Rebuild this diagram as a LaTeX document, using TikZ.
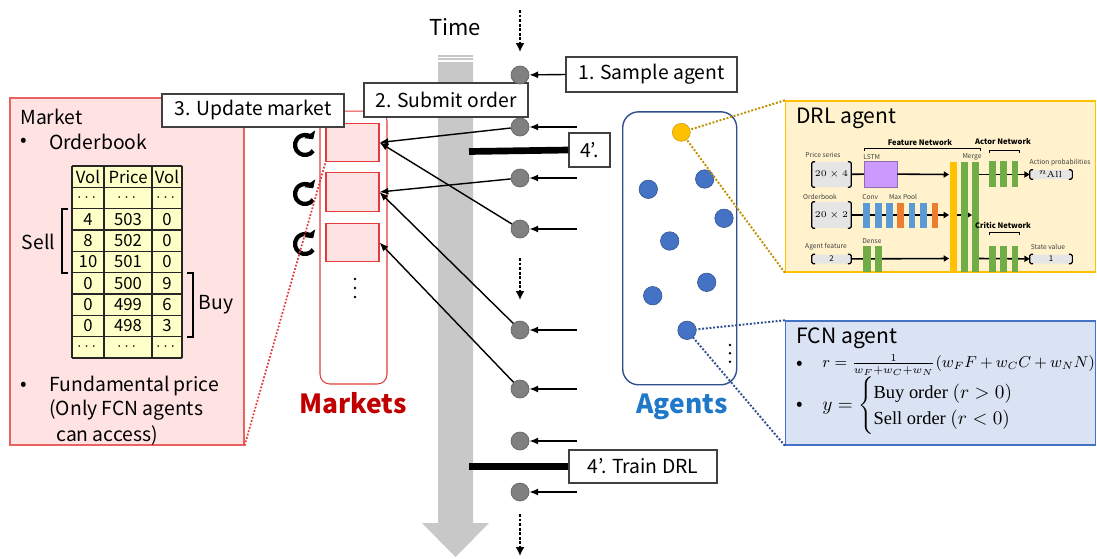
\documentclass[tikz,border=0pt]{standalone}
\usepackage[no-math]{fontspec}
\usepackage{amsmath}
\setmainfont{Noto Sans CJK JP}
\newfontfamily\fcnserif{Liberation Serif}
\usetikzlibrary{arrows.meta,positioning}

\definecolor{mktred}{HTML}{E33B3B}
\definecolor{mktpink}{HTML}{FFE3E3}
\definecolor{agtblue}{HTML}{2F4F8F}
\definecolor{dotblue}{HTML}{4472C4}
\definecolor{agtgold}{HTML}{FFC000}
\definecolor{goldline}{HTML}{BF9000}
\definecolor{drlfill}{HTML}{FFF2CC}
\definecolor{fcnfill}{HTML}{DAE3F3}
\definecolor{tblfill}{HTML}{FFFFC8}
\definecolor{lstmpurple}{HTML}{CC99FF}
\definecolor{convblue}{HTML}{5B9BD5}
\definecolor{poolorange}{HTML}{ED7D31}
\definecolor{densegreen}{HTML}{70AD47}
\definecolor{titleblue}{HTML}{1F78C8}
\definecolor{titlered}{HTML}{C00000}
\definecolor{timegray}{HTML}{C8C8C8}

\tikzset{
  stepbox/.style={draw=black!75, fill=white, line width=0.7pt, inner sep=0pt,
    font=\fontsize{11}{13}\selectfont},
  tick/.style={circle, draw=black!60, fill=black!50, minimum size=0.36cm, inner sep=0pt},
  feed/.style={line width=0.8pt, -{Latex[length=5pt,width=4pt]}},
  later/.style={densely dotted, line width=1.6pt, -{Latex[length=5pt,width=5pt]}},
  trainbar/.style={line width=3.8pt},
  book/.style={draw=mktred, fill=mktpink, line width=0.6pt, minimum width=1.06cm,
    minimum height=0.77cm, inner sep=0pt},
  refresh/.style={line width=2.4pt, -{Triangle[length=3.5pt,width=7.5pt]}},
  agent/.style={circle, fill=dotblue, draw=dotblue!70!black, line width=0.3pt,
    minimum size=0.37cm, inner sep=0pt},
  bigtitle/.style={font=\fontsize{15}{17}\selectfont\bfseries},
  txt/.style={font=\fontsize{11}{13}\selectfont, inner sep=0pt, anchor=west},
  cell/.style={font=\fontsize{9.5}{11}\selectfont, inner sep=0pt},
  tiny/.style={font=\fontsize{3.8}{4.5}\selectfont, inner sep=0pt, text=black!75},
  tinybold/.style={font=\fontsize{4.3}{5}\selectfont\bfseries, inner sep=0pt},
  vecbox/.style={fill=black!10, inner sep=0pt, rounded corners=1pt,
    font=\fontsize{4.5}{5}\selectfont},
  net/.style={line width=0.9pt, -{Triangle[length=3pt,width=3.5pt]}}
}

\begin{document}
\begin{tikzpicture}[x=0.02cm, y=-0.02cm]
\useasboundingbox (0,0) rectangle (1097,558);

% time axis
\fill[timegray] (438,55) -- (473,55) -- (473,523) -- (489,523) -- (455.5,557)
  -- (422,523) -- (438,523) -- cycle;
\draw[white, line width=0.6pt] (438,57.5) -- (473,57.5) (438,61) -- (473,61);
\node[font=\fontsize{12.5}{14}\selectfont] (time) at (455,27) {Time};

% markets
\node[draw=mktred, rounded corners=5.5pt, line width=0.6pt, minimum width=1.34cm,
  minimum height=5.46cm] (markets) at (353.5,247.5) {};
\node[bigtitle, text=titlered, anchor=base] (marketslbl) at (353,413) {Markets};
\node[book] (m1) at (352.5,142.5) {};
\node[book] (m2) at (352.5,192) {};
\node[book] (m3) at (352.5,242.5) {};
\foreach \yy in {279,288,297}
  \fill (355,\yy) circle (0.8pt);
\foreach \yy in {145,194,244}
  \draw[refresh] (305,\yy) ++(-35:0.2cm) arc[start angle=-35, end angle=-325, radius=0.2cm];

% market detail
\node[draw=mktred!80, fill=mktpink, line width=0.7pt, minimum width=4.68cm,
  minimum height=6.94cm, inner sep=0pt] (market) at (127,271.5) {};
\draw[mktred, densely dotted, line width=1pt] (market.south east) -- (m1.south west);
\node[txt] (mkttitle) at (20,117) {Market};
\node[txt] (bul1) at (20,142) {•};
\node[txt] (obook) at (49,142) {Orderbook};
\fill[tblfill] (72,166) rectangle (182,358);
\foreach \i in {0,...,9}
  \draw[black!85, line width=0.6pt] (72,166+21.33*\i) -- (182,166+21.33*\i);
\foreach \xx in {72,104,152,182}
  \draw[black!85, line width=0.6pt] (\xx,166) -- (\xx,358);
\foreach \a/\b/\c [count=\i from 0] in {Vol/Price/Vol, {$\cdots$}/{$\cdots$}/{$\cdots$},
    4/503/0, 8/502/0, 10/501/0, 0/500/9, 0/499/6, 0/498/3, {$\cdots$}/{$\cdots$}/{$\cdots$}} {
  \node[cell] (va\i) at (88,176.7+21.33*\i) {\a};
  \node[cell] (pr\i) at (128,176.7+21.33*\i) {\b};
  \node[cell] (vb\i) at (167,176.7+21.33*\i) {\c};
}
\draw[line width=0.8pt] (68,209) -- (62,209) -- (62,273) -- (68,273);
\draw[line width=0.8pt] (187,273) -- (193,273) -- (193,337) -- (187,337);
\node[txt, anchor=center] (sell) at (38.5,242) {Sell};
\node[txt, anchor=center] (buy) at (216,305) {Buy};
\node[txt] (bul2) at (20,386) {•};
\node[txt] (fprice) at (49,386) {Fundamental price};
\node[txt] (only) at (49,410) {(Only FCN agents};
\node[txt] (access) at (56,435) {can access)};

% step labels
\node[stepbox, minimum width=3.64cm, minimum height=0.66cm] (update) at (253,110.5) {3. Update market};
\node[stepbox, minimum width=3.28cm, minimum height=0.68cm] (submit) at (446,100) {2. Submit order};

% agent ticks on the time line
\foreach \n/\yy in {1/75,2/127,3/178,4/229,5/330,6/389,7/441,8/492} {
  \node[tick] (t\n) at (520,\yy) {};
  \coordinate (f\n) at (577,\yy);
}
\node[stepbox, minimum width=3.42cm, minimum height=0.7cm] (sample) at (651.5,74.5) {1. Sample agent};
\draw[feed] (sample.west) -- (t1);
\foreach \n in {2,...,8}
  \draw[feed] (f\n) -- (t\n);

\coordinate (d1a) at (520,10);   \coordinate (d1b) at (520,52);
\coordinate (d2a) at (520,258);  \coordinate (d2b) at (520,300);
\coordinate (d3a) at (520,514);  \coordinate (d3b) at (520,556);
\draw[later] (d1a) -- (d1b);
\draw[later] (d2a) -- (d2b);
\draw[later] (d3a) -- (d3b);

% training steps
\node[stepbox, minimum width=0.82cm, minimum height=0.68cm] (trainmark) at (589.5,150) {4’.};
\node[stepbox, minimum width=2.96cm, minimum height=0.66cm] (train) at (643,466.5) {4’. Train DRL};
\coordinate (b1) at (469,151.5);
\coordinate (b2) at (469,466.5);
\draw[trainbar] (b1) -- (trainmark.west);
\draw[trainbar] (b2) -- (train.west);

% orders
\draw[feed] (t2) -- (m1.east);
\draw[feed] (t4) -- (m1.east);
\draw[feed] (t3) -- (m2.east);
\draw[feed] (t5) -- (m2.east);
\draw[feed] (t6) -- (m3.east);

% agents
\node[draw=agtblue, rounded corners=9pt, line width=0.8pt, minimum width=2.28cm,
  minimum height=5.46cm] (agents) at (679.7,248.3) {};
\node[bigtitle, text=titleblue, anchor=base] (agentslbl) at (682,413) {Agents};
\node[circle, fill=agtgold, draw=agtgold!80!black, line width=0.3pt, minimum size=0.36cm,
  inner sep=0pt] (drlag) at (681.3,132.3) {};
\node[agent] (a1) at (648.3,189.3) {};
\node[agent] (a2) at (704.7,179) {};
\node[agent] (a3) at (724,218.3) {};
\node[agent] (a4) at (669.7,241) {};
\node[agent] (a5) at (706.7,282.3) {};
\node[agent] (a6) at (652.7,295.7) {};
\node[agent] (fcnag) at (687,330.3) {};
\foreach \yy in {345,353.3,361.7}
  \fill (730,\yy) circle (0.8pt);

% DRL agent detail
\node[draw=agtgold, fill=drlfill, line width=0.8pt, minimum width=6.2cm,
  minimum height=3.42cm, inner sep=0pt] (drl) at (940.5,186.5) {};
\draw[goldline, densely dotted, line width=1.1pt] (drl.north west) -- (drlag);
\draw[goldline, densely dotted, line width=1.1pt] (drl.south west) -- (drlag);
\node[txt, font=\fontsize{12}{14}\selectfont] (drltitle) at (796,118) {DRL agent};

\node[vecbox, minimum width=0.78cm, minimum height=0.5cm] (ps) at (831.5,174.5) {$20\times4$};
\node[vecbox, minimum width=0.78cm, minimum height=0.52cm] (ob) at (831.5,215) {$20\times2$};
\node[vecbox, minimum width=0.78cm, minimum height=0.18cm] (af) at (831.5,259) {2};
\node[vecbox, minimum width=0.84cm, minimum height=0.18cm] (ap) at (1051,174.5) {$n_{\mathrm{All}}$};
\node[vecbox, minimum width=0.84cm, minimum height=0.18cm] (sv) at (1051,259) {1};
\foreach \n in {ps,ob,af,ap,sv} {
  \draw[line width=0.7pt, rounded corners=1pt] ([xshift=2pt]\n.north west) -- (\n.north west)
    -- (\n.south west) -- ([xshift=2pt]\n.south west);
  \draw[line width=0.7pt, rounded corners=1pt] ([xshift=-2pt]\n.north east) -- (\n.north east)
    -- (\n.south east) -- ([xshift=-2pt]\n.south east);
}

\node[fill=lstmpurple, draw=lstmpurple!70!black, line width=0.3pt, minimum width=0.66cm,
  minimum height=0.52cm, inner sep=0pt] (lstm) at (880.5,174) {};
\coordinate (mg1) at (949,174.5);
\coordinate (mg2) at (949,215);
\coordinate (mg3) at (949,258.5);
\coordinate (mgd) at (957,215);
\coordinate (mge) at (972,215);
\coordinate (ac0) at (979,174.5);
\coordinate (cr0) at (979,258.5);
\draw[line width=0.9pt] (ps) -- (lstm);
\draw[net] (lstm) -- (mg1);
\draw[net] (ob) -- (mg2);
\draw[net] (af) -- (mg3);
\draw[net, densely dashed] (mgd) -- (mge);
\draw[net] (ac0) -- (ap);
\draw[net] (cr0) -- (sv);

\foreach \xa/\xb/\col in {863/870/convblue, 875/882/convblue, 886/893/convblue,
    897/904/poolorange, 909/915/convblue, 920/927/convblue, 932/938/poolorange}
  \fill[\col] (\xa,203) rectangle (\xb,228);
\foreach \xa/\xb in {863/871, 875/882}
  \fill[densegreen] (\xa,246) rectangle (\xb,272);
\fill[agtgold] (950,162) rectangle (957,272);
\foreach \xa/\xb in {961/968, 972/979}
  \fill[densegreen] (\xa,162) rectangle (\xb,272);
\foreach \xa/\xb in {989/996, 1000/1007, 1012/1018} {
  \fill[densegreen] (\xa,161) rectangle (\xb,187);
  \fill[densegreen] (\xa,246) rectangle (\xb,272);
}

\node[tinybold] (featlbl) at (920,143) {Feature Network};
\node[tinybold] (actlbl) at (1003,142) {Actor Network};
\node[tinybold] (critlbl) at (1003,225) {Critic Network};
\draw[line width=0.5pt] (864,151) -- (864,148) -- (980,148) -- (980,151);
\draw[line width=0.5pt] (989,153) -- (989,150) -- (1019,150) -- (1019,153);
\draw[line width=0.5pt] (989,235) -- (989,232) -- (1019,232) -- (1019,235);
\node[tiny] (pslbl) at (823,155) {Price series};
\node[tiny] (oblbl) at (820,197) {Orderbook};
\node[tiny] (aflbl) at (826,247) {Agent feature};
\node[tiny, anchor=west] (lstmlbl) at (863,157) {LSTM};
\node[tiny, anchor=west] (convlbl) at (862,197) {Conv};
\node[tiny] (poollbl) at (903,197) {Max Pool};
\node[tiny, anchor=west] (denselbl) at (862,241) {Dense};
\node[tiny] (mergelbl) at (972,157) {Merge};
\node[tiny] (aplbl) at (1060,163) {Action probabilities};
\node[tiny] (svlbl) at (1048,247) {State value};

% FCN agent detail
\node[draw=dotblue, fill=fcnfill, line width=0.8pt, minimum width=6.2cm,
  minimum height=2.48cm, inner sep=0pt] (fcn) at (940.5,383) {};
\draw[agtblue, densely dotted, line width=1.1pt] (fcn.north west) -- (fcnag);
\draw[agtblue, densely dotted, line width=1.1pt] (fcn.south west) -- (fcnag);
\node[txt, font=\fontsize{12}{14}\selectfont] (fcntitle) at (796,338) {FCN agent};
\node[txt] (bul3) at (796,365) {•};
\node[txt, font=\fontsize{8.7}{10}\selectfont] (rule) at (822,365)
  {$\medmuskip=3.5mu r=\frac{1}{w_F+w_C+w_N}(w_F F+w_C C+w_N N)$};
\node[txt] (bul4) at (796,406) {•};
\node[txt, font=\fontsize{10.5}{12.5}\selectfont] (side) at (822,406)
  {$y=\begin{cases}\text{\fcnserif Buy order } (r>0)\\
  \text{\fcnserif Sell order } (r<0)\end{cases}$};
\end{tikzpicture}
\end{document}
